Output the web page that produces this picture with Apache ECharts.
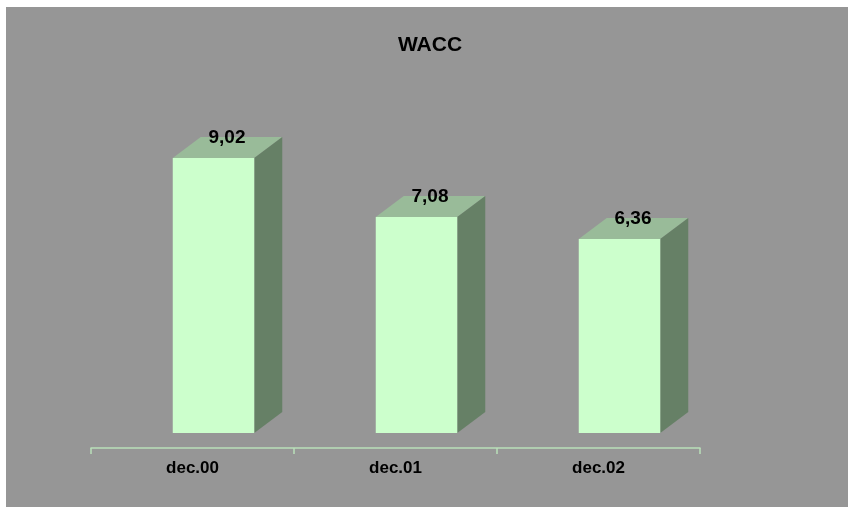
<!DOCTYPE html>
<html><head><meta charset="utf-8">
<style>html,body{margin:0;padding:0;background:#fff}#c{position:absolute;left:0;top:0;width:848px;height:507px}</style>
<script src="https://cdn.jsdelivr.net/npm/echarts@6/dist/echarts.min.js"></script>
</head><body><div id="c"></div>
<script>
const categories = ['dec.00', 'dec.01', 'dec.02'];
const values = [9.02, 7.08, 6.36];
const labels = ['9,02', '7,08', '6,36'];

const FONT = '"Liberation Sans", Arial, sans-serif';
const chart = echarts.init(document.getElementById('c'), null, {renderer: 'canvas'});
const BAR_W = 81.5, DX = 28, DY = 21;

function renderItem(params, api) {
  const i = api.value(0);
  const top = api.coord([i, api.value(1)]);
  const base = api.coord([i, 0]);
  const cx = top[0] + 21;
  const l = cx - BAR_W / 2, r = cx + BAR_W / 2, t = top[1], b = base[1];
  return {
    type: 'group',
    children: [
      {type: 'polygon', shape: {points: [[l, t], [r, t], [r + DX, t - DY], [l + DX, t - DY]]}, style: {fill: '#99bb99'}},
      {type: 'polygon', shape: {points: [[r, t], [r + DX, t - DY], [r + DX, b - DY], [r, b]]}, style: {fill: '#668066'}},
      {type: 'rect', shape: {x: l, y: t, width: BAR_W, height: b - t}, style: {fill: '#ccffcc'}},
      {type: 'text', x: cx + 13.5, y: t - 20, style: {text: labels[i], font: 'bold 19px ' + FONT, fill: '#000', align: 'center', verticalAlign: 'middle'}}
    ]
  };
}

chart.setOption({
  animation: false,
  backgroundColor: 'transparent',
  graphic: [{type: 'rect', z: -10, shape: {x: 6, y: 7, width: 842, height: 500}, style: {fill: '#969696'}}],
  title: {text: 'WACC', left: 430, top: 35, padding: 0, textAlign: 'center',
    textStyle: {fontFamily: FONT, fontWeight: 'bold', fontSize: 21, color: '#000'}},
  grid: {left: 91, right: 148, top: 128, bottom: 74},
  xAxis: {type: 'category', data: categories, offset: 15,
    axisLine: {onZero: false, lineStyle: {color: '#b9e0b9', width: 1.5}},
    axisTick: {show: true, length: 6, lineStyle: {color: '#b9e0b9', width: 1.5}},
    axisLabel: {margin: 12, fontFamily: FONT, fontWeight: 'bold', fontSize: 17, color: '#000'}},
  yAxis: {type: 'value', min: 0, max: 10, show: false, splitLine: {show: false}},
  series: [{type: 'custom', renderItem, clip: false,
    encode: {x: 0, y: 1}, data: values.map((v, i) => [i, v])}]
});
</script></body></html>
